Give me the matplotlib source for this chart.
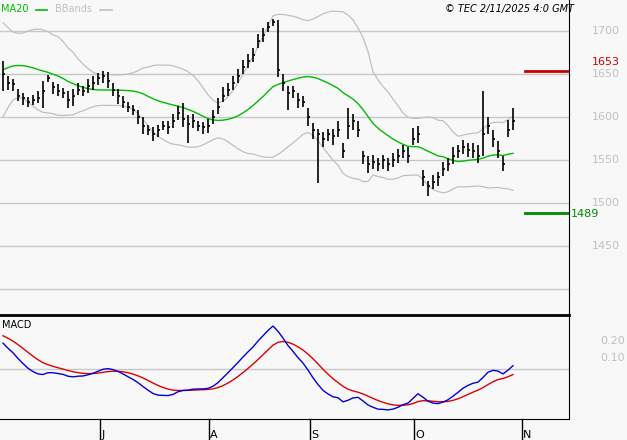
import numpy as np
import pandas as pd
import matplotlib
matplotlib.use("Agg")
import matplotlib.pyplot as plt

pre_closes = [1590,1600,1615,1625,1640,1650,1660,1665,1675,1680,1670,1685,1690,1675,1680,1670,1665,1660,1655]
closes = [1650,1640,1638,1625,1622,1618,1620,1622,1630,1645,1635,1630,1628,
          1620,1625,1632,1630,1636,1640,1645,1648,
          1642,1632,1625,1618,1612,1608,1600,1590,
          1585,1580,1585,1590,1588,1595,1605,1598,1592,
          1595,1590,1588,1590,
          1600,1612,1625,1632,1640,1648,1658,1665,1672,1688,1695,1705,1710,
          1655,
          1640,1628,1630,1620,1618,
          1600,1585,1580,
          1575,1580,1578,1585,1560,1590,1595,1585,
          1555,1545,1548,1545,1550,1545,1550,1555,1560,1555,
          1575,1580,
          1530,1520,1525,1530,
          1540,1545,1555,1560,1565,1562,1560,1555,
          1580,
          1590,1575,1560,1545,
          1585,1595]
up = [15,8,6,8,6,5,6,8,12,4, 6,8,6,10,8,8,6,8,8,6, 6,10,8,8,6,6,6,8,10,6,
      8,6,5,8,8,8,18,10,8,6, 6,8,8,10,10,8,8,8,8,8, 8,8,8,6,4,58,10,8,6,8,
      6,10,8,6,8,6,8,10,10,21, 8,10,6,10,8,8,6,8,8,8, 8,10,12,10,8,6,8,6,8,8,
      10,8,8,8,10,12,50,10,10,12, 10,12,15]
dn = [20,8,8,6,8,6,6,6,20,4, 8,6,6,10,12,6,6,8,8,8, 8,8,8,10,8,6,6,8,10,6,
      8,8,5,8,8,8,10,22,8,6, 8,8,8,8,8,8,8,8,8,8, 8,8,8,6,4,8,10,20,8,10,
      6,10,10,57,10,8,10,8,8,15, 10,8,10,10,8,8,10,8,8,8, 8,8,8,10,10,12,8,10,8,8,
      10,8,8,8,8,8,25,10,10,8, 8,8,10]
month_labels = ["J", "A", "S", "O", "N"]
month_idx = [19.4, 41.2, 61.4, 82.2, 103.8]
price_ticks = [1450, 1500, 1550, 1600, 1650, 1700]
resistance = 1653
support = 1489

n = len(closes)
x = np.arange(n)
c = np.array(closes, float)
hi = c + np.array(up)
lo = c - np.array(dn)
allc = pd.Series(pre_closes + closes, dtype=float)
ma = allc.rolling(20).mean().values[-n:]
sd = allc.rolling(20).std(ddof=0).values[-n:]
ub, lb = ma + 2 * sd, ma - 2 * sd
macd = allc.ewm(span=12, adjust=False).mean() - allc.ewm(span=26, adjust=False).mean()
sig = macd.ewm(span=9, adjust=False).mean()
macd, sig = macd.values[-n:], sig.values[-n:]

bg = "#f8f8f8"
fig = plt.figure(figsize=(6.27, 4.40), dpi=100, facecolor=bg)
ax = fig.add_axes([0, 0.284, 0.9075, 0.716], facecolor=bg)
ax2 = fig.add_axes([0, 0.048, 0.9075, 0.236], facecolor=bg)
xl = (-0.6, 113.2)
for a in (ax, ax2):
    a.set_xlim(*xl)
    a.set_xticks([]); a.set_yticks([])
    for s in a.spines.values():
        s.set_visible(False)
    a.spines['right'].set_visible(True)
    a.spines['right'].set_color('black')

ax.set_ylim(1370, 1736)
for p in [1400] + price_ticks:
    ax.axhline(p, color="#c8c8c8", lw=1, zorder=0)
for p in price_ticks:
    ax.text(1.04, (p - 1370) / 366, str(p), transform=ax.transAxes,
            color="#c0c0c0", fontsize=8, va="center", ha="left", clip_on=False)
ax.plot(x, ub, color="#c0c0c0", lw=0.9)
ax.plot(x, lb, color="#c0c0c0", lw=0.9)
ax.plot(x, ma, color="#00bb00", lw=1)
ax.vlines(x, lo, hi, color="black", lw=1.2)
ax.hlines(c, x, x + 0.4, color="black", lw=1.2)
ax.plot([104.4, 113.0], [resistance] * 2, color="#cc0000", lw=2)
ax.plot([104.4, 113.0], [support] * 2, color="#008800", lw=2)
ax.text(1.04, (resistance - 1370) / 366 + 0.03, str(resistance), transform=ax.transAxes, color="#cc0000",
        fontsize=8, va="center", ha="left", clip_on=False)
ax.text(1.003, (support - 1370) / 366 - 0.005, str(support), transform=ax.transAxes, color="#008800",
        fontsize=8, va="center", ha="left", clip_on=False)

fig.text(0.002, 0.99, "MA20", color="#00bb00", fontsize=7, va="top")
fig.add_artist(plt.Line2D([0.058, 0.075], [0.978, 0.978], color="#00bb00", lw=1.2))
fig.text(0.087, 0.99, "BBands", color="#c0c0c0", fontsize=7, va="top")
fig.add_artist(plt.Line2D([0.16, 0.178], [0.978, 0.978], color="#c0c0c0", lw=1.2))
fig.text(0.915, 0.99, "© TEC 2/11/2025 4:0 GMT", fontsize=7, style="italic", ha="right", va="top")
fig.add_artist(plt.Line2D([0, 0.9075], [0.284, 0.284], color="black", lw=2))

lo_m, hi_m = min(macd.min(), sig.min()), max(macd.max(), sig.max())
rng = hi_m - lo_m
ax2.set_ylim(lo_m - rng * 9 / 84, hi_m + rng * 11 / 84)
ax2.plot([0, 1], [0.48, 0.48], color="#c8c8c8", lw=1, transform=ax2.transAxes, zorder=0)
ax2.plot(x, sig, color="#dd0000", lw=1)
ax2.plot(x, macd, color="#0000dd", lw=1)
ax2.spines['bottom'].set_visible(True)
ax2.spines['bottom'].set_color('black')
ax2.text(0.003, 0.95, "MACD", transform=ax2.transAxes, fontsize=7, va="top")
ax2.text(1.055, 0.75, "0.20", transform=ax2.transAxes, color="#c0c0c0", fontsize=8, va="center", clip_on=False)
ax2.text(1.055, 0.587, "0.10", transform=ax2.transAxes, color="#c0c0c0", fontsize=8, va="center", clip_on=False)
for lab, xi in zip(month_labels, month_idx):
    xf = (xi - xl[0]) / (xl[1] - xl[0]) * 0.9075
    fig.add_artist(plt.Line2D([xf, xf], [0.048, 0.0], color="black", lw=1))
    fig.text(xf + 0.002, 0.0, lab, fontsize=8, va="bottom", ha="left")

fig.savefig("out.png", dpi=100, facecolor=bg)
